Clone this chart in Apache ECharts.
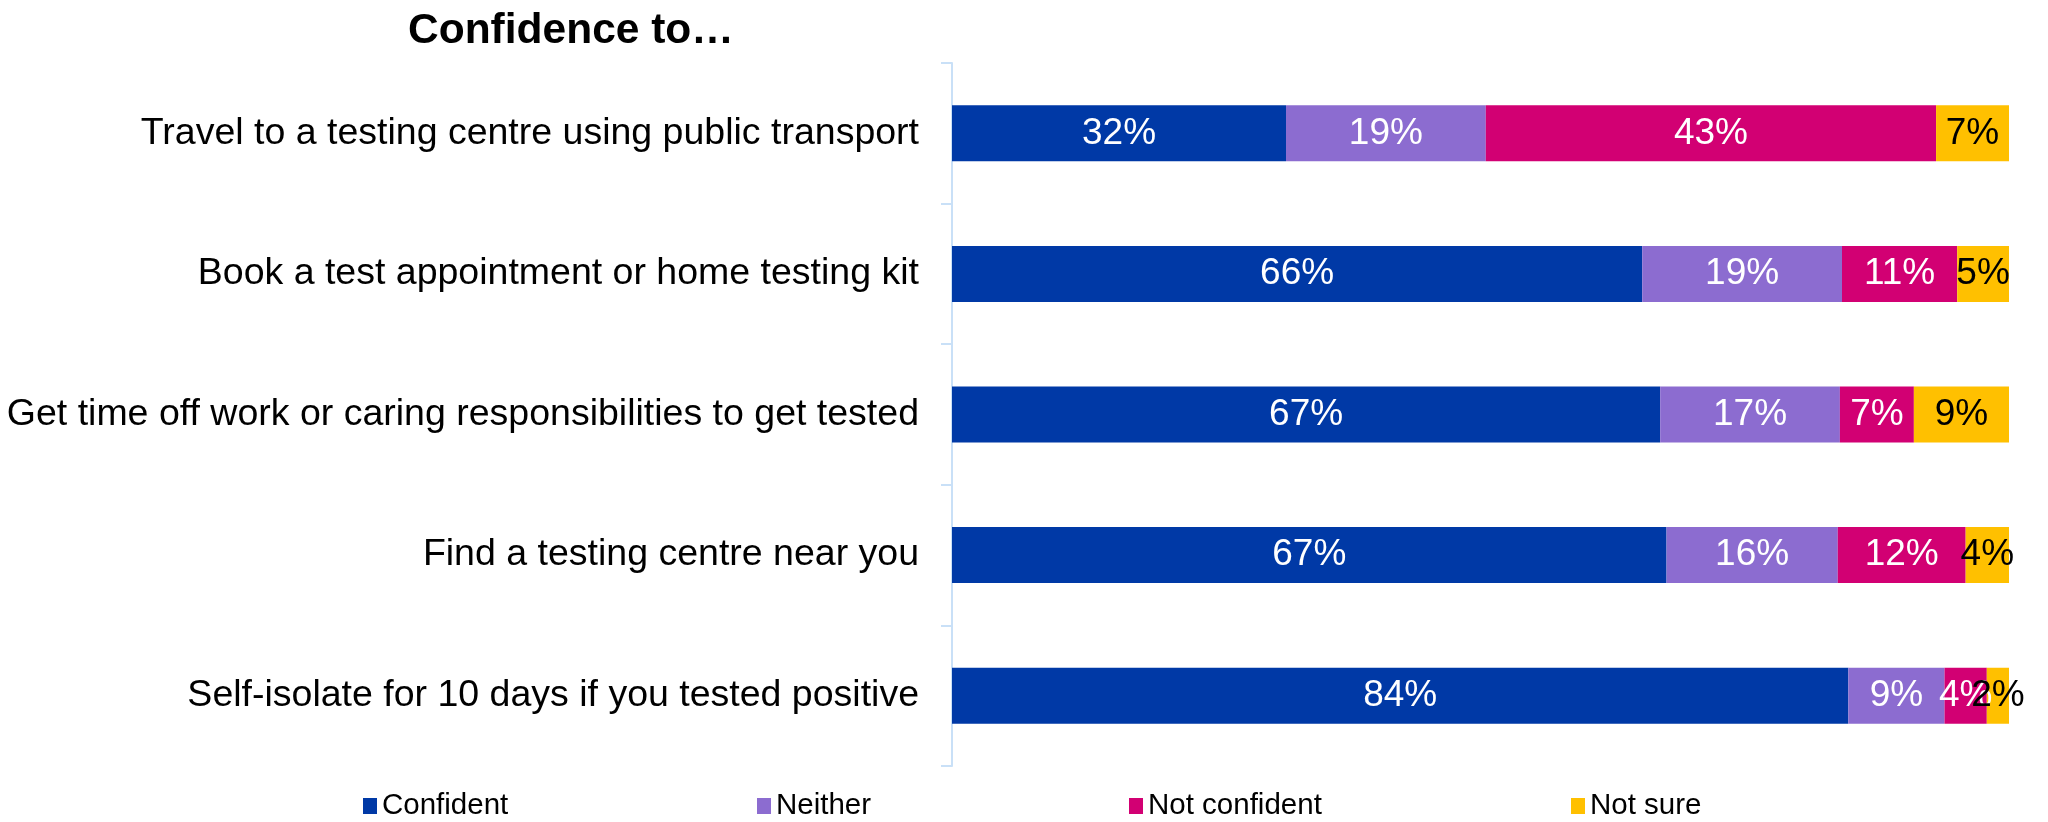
<!DOCTYPE html>
<html>
<head>
<meta charset="utf-8">
<script src="https://cdn.jsdelivr.net/npm/echarts@6/dist/echarts.min.js"></script>
<style>
html,body{margin:0;padding:0;background:#fff;}
#chart{width:2048px;height:822px;}
</style>
</head>
<body>
<div id="chart"></div>
<script>
const titleText = 'Confidence to\u2026';
const categories = [
  'Travel to a testing centre using public transport',
  'Book a test appointment or home testing kit',
  'Get time off work or caring responsibilities to get tested',
  'Find a testing centre near you',
  'Self-isolate for 10 days if you tested positive'
];
const seriesNames = ['Confident', 'Neither', 'Not confident', 'Not sure'];
// Bar lengths (% of respondents) as drawn
const confident    = [31.6, 65.3, 67.0, 67.6, 84.8];
const neither      = [18.9, 18.9, 17.0, 16.2, 9.1];
const notConfident = [42.6, 10.9, 7.0, 12.1, 4.0];
const notSure      = [6.9, 4.9, 9.0, 4.1, 2.1];
// Printed labels (%)
const confidentLabels    = [32, 66, 67, 67, 84];
const neitherLabels      = [19, 19, 17, 16, 9];
const notConfidentLabels = [43, 11, 7, 12, 4];
const notSureLabels      = [7, 5, 9, 4, 2];

const values = [confident, neither, notConfident, notSure];
const labels = [confidentLabels, neitherLabels, notConfidentLabels, notSureLabels];
const colors = ['#0039A6', '#8C6CD0', '#D20073', '#FFC000'];
const labelColors = ['#ffffff', '#ffffff', '#ffffff', '#000000'];
const legendLefts = [363, 757, 1129, 1571];
const FONT = '"Liberation Sans", Arial, sans-serif';

const chart = echarts.init(document.getElementById('chart'), null, {renderer: 'canvas'});
const option = {
  backgroundColor: '#ffffff',
  animation: false,
  title: {
    text: titleText,
    left: 408,
    top: 10,
    padding: 0,
    textStyle: {fontFamily: FONT, fontSize: 42.5, fontWeight: 'bold', color: '#000'}
  },
  legend: seriesNames.map((n, i) => ({
    data: [n],
    left: legendLefts[i],
    top: 791,
    padding: 0,
    itemWidth: 14,
    itemHeight: 16,
    icon: 'rect',
    selectedMode: false,
    textStyle: {fontFamily: FONT, fontSize: 29.5, color: '#000'}
  })),
  grid: {left: 952, right: 39, top: 63, bottom: 56, containLabel: false},
  xAxis: {
    type: 'value',
    min: 0,
    max: 100,
    show: false
  },
  yAxis: {
    type: 'category',
    data: categories,
    inverse: true,
    axisLine: {show: true, lineStyle: {color: '#C9E0F7', width: 2}},
    axisTick: {show: true, length: 11, lineStyle: {color: '#C9E0F7', width: 2}},
    axisLabel: {margin: 33, fontFamily: FONT, fontSize: 37.5, color: '#000'},
    splitLine: {show: false}
  },
  series: seriesNames.map((n, i) => ({
    name: n,
    type: 'bar',
    stack: 'total',
    barWidth: 56,
    data: values[i],
    itemStyle: {color: colors[i]},
    label: {
      show: true,
      position: 'inside',
      fontFamily: FONT,
      fontSize: 37,
      color: labelColors[i],
      formatter: p => labels[i][p.dataIndex] + '%'
    },
    labelLayout: {hideOverlap: false}
  }))
};
chart.setOption(option);
</script>
</body>
</html>
